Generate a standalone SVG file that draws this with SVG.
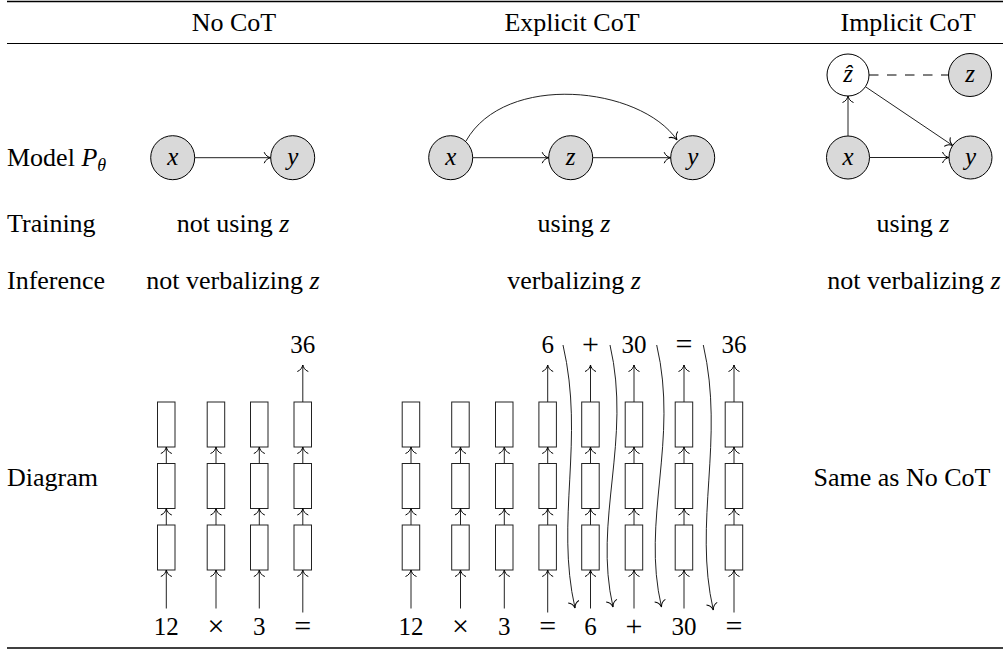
<svg xmlns="http://www.w3.org/2000/svg" width="1003" height="650" viewBox="0 0 1003 650">
<style>
text{font-family:"Liberation Serif","DejaVu Serif",serif;fill:#000}
.t{font-size:26px}
.h{font-size:26px;text-anchor:middle}
.m{font-size:25px;font-style:italic;text-anchor:middle}
.d{font-size:25px;text-anchor:middle}
.o{font-size:30px;text-anchor:middle}
.node{fill:#d9d9d9;stroke:#000;stroke-width:1}
.hat{fill:#fff;stroke:#000;stroke-width:1}
.box{fill:#fff;stroke:#222;stroke-width:1}
.e{fill:none;stroke:#222;stroke-width:1;marker-end:url(#ah)}
.rule{stroke:#000}
</style>
<defs>
<marker id="ah" markerUnits="userSpaceOnUse" viewBox="-8 -7 10 14" refX="0" refY="0" markerWidth="10" markerHeight="14" orient="auto" overflow="visible">
<path d="M-6.5,-5.5 C-5.5,-2.2 -2.2,-0.5 0,0 C-2.2,0.5 -5.5,2.2 -6.5,5.5" fill="none" stroke="#000" stroke-width="1"/>
</marker>
</defs>

<g id="rules">
<line class="rule" x1="7" y1="1.5" x2="1003" y2="1.5" stroke-width="1.6"/>
<line class="rule" x1="7" y1="43.5" x2="1003" y2="43.5" stroke-width="1"/>
<line class="rule" x1="7" y1="648" x2="1003" y2="648" stroke-width="1.6"/>
</g>

<g id="headers">
<text class="h" x="234" y="30.5">No CoT</text>
<text class="h" x="572" y="30.5">Explicit CoT</text>
<text class="h" x="908" y="30.5">Implicit CoT</text>
</g>

<g id="row-labels">
<text class="t" x="7" y="165.5">Model <tspan font-style="italic">P</tspan><tspan font-style="italic" font-size="18" dy="5">θ</tspan></text>
<text class="t" x="7" y="232">Training</text>
<text class="t" x="7" y="289">Inference</text>
<text class="t" x="7" y="486">Diagram</text>
</g>

<g id="cells">
<text class="h" x="233" y="232">not using <tspan font-style="italic">z</tspan></text>
<text class="h" x="574" y="232">using <tspan font-style="italic">z</tspan></text>
<text class="h" x="913" y="232">using <tspan font-style="italic">z</tspan></text>
<text class="h" x="233" y="289">not verbalizing <tspan font-style="italic">z</tspan></text>
<text class="h" x="574" y="289">verbalizing <tspan font-style="italic">z</tspan></text>
<text class="h" x="914" y="289">not verbalizing <tspan font-style="italic">z</tspan></text>
<text class="h" x="902" y="486">Same as No CoT</text>
</g>

<g id="nocot-x"><circle class="node" cx="172.7" cy="157.7" r="22"/><text class="m" x="172.7" y="165">x</text></g>
<g id="nocot-y"><circle class="node" cx="292.7" cy="157.7" r="22"/><text class="m" x="292.7" y="165">y</text></g>

<g id="exp-x"><circle class="node" cx="450.7" cy="157.7" r="22"/><text class="m" x="450.7" y="165">x</text></g>
<g id="exp-z"><circle class="node" cx="570.7" cy="157.7" r="22"/><text class="m" x="570.7" y="165">z</text></g>
<g id="exp-y"><circle class="node" cx="692.7" cy="157.7" r="22"/><text class="m" x="692.7" y="165">y</text></g>

<g id="imp-zhat"><circle class="hat" cx="848" cy="75" r="21"/><text class="m" x="848" y="82">ẑ</text></g>
<g id="imp-z"><circle class="node" cx="970" cy="75" r="21.5"/><text class="m" x="970" y="82">z</text></g>
<g id="imp-x"><circle class="node" cx="848" cy="157.5" r="21.5"/><text class="m" x="848" y="165">x</text></g>
<g id="imp-y"><circle class="node" cx="970.5" cy="157.5" r="21.5"/><text class="m" x="970.5" y="165">y</text></g>

<g id="connectors">
<line class="e" x1="194.7" y1="157.7" x2="270.7" y2="157.7"/>
<line class="e" x1="472.7" y1="157.7" x2="548.7" y2="157.7"/>
<line class="e" x1="592.7" y1="157.7" x2="670.7" y2="157.7"/>
<path class="e" d="M466,141 C505,72 640,86 677,140"/>
<line class="e" x1="848" y1="136" x2="848" y2="96"/>
<line class="e" x1="869.5" y1="157.5" x2="949" y2="157.5"/>
<line class="e" x1="865.4" y1="86.7" x2="952.7" y2="145.5"/>
<line x1="869" y1="75" x2="948.5" y2="75" stroke="#000" stroke-width="1" stroke-dasharray="9.5 8.5"/>
</g>

<g id="nocot-diagram">
<g id="nc-col1"><rect class="box" x="157.5" y="402" width="17.5" height="45"/><rect class="box" x="157.5" y="463.5" width="17.5" height="45"/><rect class="box" x="157.5" y="525" width="17.5" height="45"/></g>
<g id="nc-col2"><rect class="box" x="207.2" y="402" width="17.5" height="45"/><rect class="box" x="207.2" y="463.5" width="17.5" height="45"/><rect class="box" x="207.2" y="525" width="17.5" height="45"/></g>
<g id="nc-col3"><rect class="box" x="250.5" y="402" width="17.5" height="45"/><rect class="box" x="250.5" y="463.5" width="17.5" height="45"/><rect class="box" x="250.5" y="525" width="17.5" height="45"/></g>
<g id="nc-col4"><rect class="box" x="294" y="402" width="17.5" height="45"/><rect class="box" x="294" y="463.5" width="17.5" height="45"/><rect class="box" x="294" y="525" width="17.5" height="45"/></g>
<g id="nc-labels">
<text class="d" x="166.3" y="635">12</text>
<text class="o" x="216" y="636">×</text>
<text class="d" x="259.3" y="635">3</text>
<text class="o" x="302.8" y="636">=</text>
<text class="d" x="302.8" y="353">36</text>
</g>
</g>

<g id="exp-diagram">
<g id="ex-col1"><rect class="box" x="402.2" y="402" width="17.5" height="45"/><rect class="box" x="402.2" y="463.5" width="17.5" height="45"/><rect class="box" x="402.2" y="525" width="17.5" height="45"/></g>
<g id="ex-col2"><rect class="box" x="451.7" y="402" width="17.5" height="45"/><rect class="box" x="451.7" y="463.5" width="17.5" height="45"/><rect class="box" x="451.7" y="525" width="17.5" height="45"/></g>
<g id="ex-col3"><rect class="box" x="495.5" y="402" width="17.5" height="45"/><rect class="box" x="495.5" y="463.5" width="17.5" height="45"/><rect class="box" x="495.5" y="525" width="17.5" height="45"/></g>
<g id="ex-col4"><rect class="box" x="538.9" y="402" width="17.5" height="45"/><rect class="box" x="538.9" y="463.5" width="17.5" height="45"/><rect class="box" x="538.9" y="525" width="17.5" height="45"/></g>
<g id="ex-col5"><rect class="box" x="581.7" y="402" width="17.5" height="45"/><rect class="box" x="581.7" y="463.5" width="17.5" height="45"/><rect class="box" x="581.7" y="525" width="17.5" height="45"/></g>
<g id="ex-col6"><rect class="box" x="625.2" y="402" width="17.5" height="45"/><rect class="box" x="625.2" y="463.5" width="17.5" height="45"/><rect class="box" x="625.2" y="525" width="17.5" height="45"/></g>
<g id="ex-col7"><rect class="box" x="675.2" y="402" width="17.5" height="45"/><rect class="box" x="675.2" y="463.5" width="17.5" height="45"/><rect class="box" x="675.2" y="525" width="17.5" height="45"/></g>
<g id="ex-col8"><rect class="box" x="725.2" y="402" width="17.5" height="45"/><rect class="box" x="725.2" y="463.5" width="17.5" height="45"/><rect class="box" x="725.2" y="525" width="17.5" height="45"/></g>
<g id="ex-labels">
<text class="d" x="411" y="635">12</text>
<text class="o" x="460.5" y="636">×</text>
<text class="d" x="504.3" y="635">3</text>
<text class="o" x="547.7" y="636">=</text>
<text class="d" x="590.5" y="635">6</text>
<text class="o" x="634" y="636">+</text>
<text class="d" x="684" y="635">30</text>
<text class="o" x="734" y="636">=</text>
<text class="d" x="547.7" y="353">6</text>
<text class="o" x="590.5" y="354">+</text>
<text class="d" x="634" y="353">30</text>
<text class="o" x="684" y="354">=</text>
<text class="d" x="734" y="353">36</text>
</g>
</g>

<g id="diagram-connectors">
<path class="e" d="M166.3,608.5 V570"/><path class="e" d="M166.3,525 V508.5"/><path class="e" d="M166.3,463.5 V447"/>
<path class="e" d="M216,608.5 V570"/><path class="e" d="M216,525 V508.5"/><path class="e" d="M216,463.5 V447"/>
<path class="e" d="M259.3,608.5 V570"/><path class="e" d="M259.3,525 V508.5"/><path class="e" d="M259.3,463.5 V447"/>
<path class="e" d="M302.8,612.5 V570"/><path class="e" d="M302.8,525 V508.5"/><path class="e" d="M302.8,463.5 V447"/><path class="e" d="M302.8,402 V365"/>
<path class="e" d="M411,608.5 V570"/><path class="e" d="M411,525 V508.5"/><path class="e" d="M411,463.5 V447"/>
<path class="e" d="M460.5,608.5 V570"/><path class="e" d="M460.5,525 V508.5"/><path class="e" d="M460.5,463.5 V447"/>
<path class="e" d="M504.3,608.5 V570"/><path class="e" d="M504.3,525 V508.5"/><path class="e" d="M504.3,463.5 V447"/>
<path class="e" d="M547.7,612.5 V570"/><path class="e" d="M547.7,525 V508.5"/><path class="e" d="M547.7,463.5 V447"/><path class="e" d="M547.7,402 V365"/>
<path class="e" d="M590.5,608.5 V570"/><path class="e" d="M590.5,525 V508.5"/><path class="e" d="M590.5,463.5 V447"/><path class="e" d="M590.5,402 V365"/>
<path class="e" d="M634,608.5 V570"/><path class="e" d="M634,525 V508.5"/><path class="e" d="M634,463.5 V447"/><path class="e" d="M634,402 V365"/>
<path class="e" d="M684,608.5 V570"/><path class="e" d="M684,525 V508.5"/><path class="e" d="M684,463.5 V447"/><path class="e" d="M684,402 V365"/>
<path class="e" d="M734,612.5 V570"/><path class="e" d="M734,525 V508.5"/><path class="e" d="M734,463.5 V447"/><path class="e" d="M734,402 V365"/>
<path class="e" d="M563,345 C585,440 555,520 575,608"/>
<path class="e" d="M610,345 C632,440 593,520 613,607"/>
<path class="e" d="M656.7,345 C679,440 641,520 661.5,607"/>
<path class="e" d="M703.3,345 C725,440 693,522 713.3,610"/>
</g>
</svg>
